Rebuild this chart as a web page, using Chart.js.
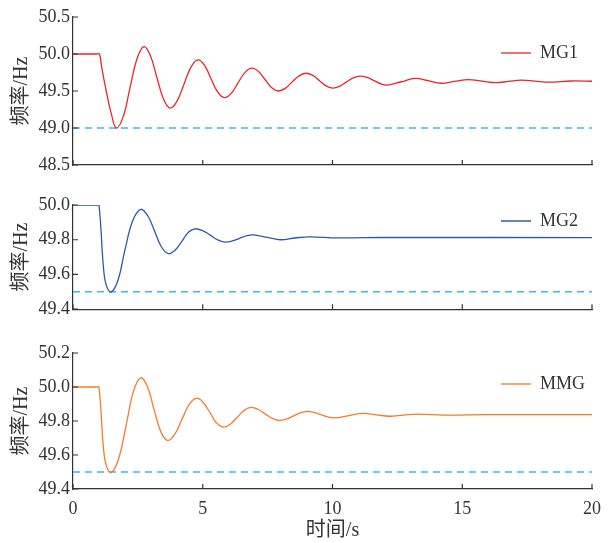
<!DOCTYPE html>
<html>
<head>
<meta charset="utf-8">
<script src="https://cdn.jsdelivr.net/npm/chart.js@4"></script>
<style>
  html, body { margin: 0; padding: 0; background: #fff; }
  #wrap { position: relative; width: 614px; height: 543px; background: #fff; }
  canvas { position: absolute; left: 0; }
</style>
</head>
<body>
<div id="wrap">
  <canvas id="c1" width="614" height="180" style="top:0px"></canvas>
  <canvas id="c2" width="614" height="143" style="top:180px"></canvas>
  <canvas id="c3" width="614" height="213" style="top:330px"></canvas>
</div>
<script>
// time axis (s)
const xTickValues = [0, 5, 10, 15, 20];

// MG1 frequency (Hz)
const timeMG1 = [0, 0.9, 1.02, 1.1, 1.28, 1.47, 1.67, 1.94, 2.2, 2.47, 2.73, 2.98, 3.23, 3.49, 3.74,
  4.01, 4.28, 4.55, 4.82, 5.07, 5.32, 5.58, 5.83, 6.1, 6.36, 6.63, 6.89, 7.15, 7.4, 7.66, 7.91,
  8.18, 8.44, 8.71, 8.97, 9.24, 9.5, 9.75, 10.0, 10.27, 10.53, 10.8, 11.06, 11.33, 11.6, 11.86, 12.12,
  12.65, 13.18, 13.68, 14.17, 14.7, 15.23, 15.76, 16.29, 16.78, 17.27, 17.8, 18.33, 19.2, 20];
const freqMG1 = [50, 50, 50, 49.83, 49.5, 49.2, 49.0, 49.16, 49.55, 49.94, 50.1, 49.98, 49.685, 49.39, 49.27,
  49.364, 49.595, 49.826, 49.92, 49.846, 49.665, 49.484, 49.41, 49.468, 49.61, 49.752, 49.81, 49.765, 49.655, 49.545, 49.5,
  49.535, 49.62, 49.705, 49.74, 49.711, 49.64, 49.569, 49.54, 49.563, 49.62, 49.677, 49.7, 49.683, 49.64, 49.597, 49.58,
  49.625, 49.67, 49.64, 49.605, 49.63, 49.655, 49.633, 49.612, 49.63, 49.648, 49.634, 49.62, 49.635, 49.632];
const yTicksMG1 = [48.5, 49.0, 49.5, 50.0, 50.5];
const limitMG1 = 49.0;

// MG2 frequency (Hz)
const timeMG2 = [0, 0.9, 1.0, 1.18, 1.3, 1.48, 1.74, 2.0, 2.3, 2.61, 2.88, 3.15, 3.41, 3.67, 3.94, 4.2,
  4.45, 4.7, 5.0, 5.3, 5.6, 5.88, 6.14, 6.4, 6.67, 6.94, 7.5, 8.0, 8.55, 9.09, 10.2, 12, 20];
const freqMG2 = [50, 50, 50, 49.63, 49.53, 49.5, 49.57, 49.74, 49.909, 49.975, 49.938, 49.848, 49.758, 49.72, 49.741, 49.792,
  49.843, 49.863, 49.852, 49.825, 49.798, 49.786, 49.793, 49.807, 49.822, 49.828, 49.813, 49.8, 49.81, 49.817, 49.811, 49.813, 49.812];
const yTicksMG2 = [49.4, 49.6, 49.8, 50.0];
const limitMG2 = 49.5;

// MMG frequency (Hz)
const timeMMG = [0, 0.9, 1.0, 1.18, 1.3, 1.48, 1.76, 2.05, 2.33, 2.61, 2.87, 3.12, 3.38, 3.64, 3.92, 4.2,
  4.48, 4.77, 5.02, 5.28, 5.53, 5.79, 6.06, 6.33, 6.6, 6.86, 7.13, 7.4, 7.68, 7.95, 8.22, 8.5,
  8.76, 9.02, 9.28, 9.55, 9.82, 10.08, 10.63, 11.18, 11.7, 12.2, 12.73, 13.26, 14.3, 16, 20];
const freqMMG = [50, 50, 50, 49.63, 49.53, 49.497, 49.578, 49.776, 49.974, 50.054, 50.001, 49.87, 49.739, 49.686, 49.722, 49.81,
  49.898, 49.934, 49.909, 49.849, 49.789, 49.764, 49.781, 49.822, 49.863, 49.88, 49.869, 49.842, 49.815, 49.803, 49.811, 49.83,
  49.848, 49.857, 49.851, 49.838, 49.824, 49.818, 49.832, 49.845, 49.836, 49.828, 49.835, 49.841, 49.835, 49.837, 49.837];
const yTicksMMG = [49.4, 49.6, 49.8, 50.0, 50.2];
const limitMMG = 49.5;

const serif = "'Liberation Serif', 'Times New Roman', serif";
const cjk = "'Liberation Serif', 'Noto Sans CJK SC', serif";
const ink = '#333';

// small inward tick marks on both axes
const innerTicks = {
  id: 'innerTicks',
  afterDraw(chart) {
    const { ctx, chartArea: a, scales: { x, y } } = chart;
    ctx.save();
    ctx.strokeStyle = ink;
    ctx.lineWidth = 1.2;
    ctx.beginPath();
    x.ticks.forEach(t => {
      const px = x.getPixelForValue(t.value);
      ctx.moveTo(px, a.bottom);
      ctx.lineTo(px, a.bottom - 5);
    });
    y.ticks.forEach(t => {
      const py = y.getPixelForValue(t.value);
      ctx.moveTo(a.left, py);
      ctx.lineTo(a.left + 5, py);
    });
    ctx.stroke();
    ctx.restore();
  }
};

// put the legend at a fixed spot inside the plot
const legendAt = {
  id: 'legendAt',
  beforeDraw(chart, args, opts) {
    const lg = chart.legend;
    if (!lg) return;
    lg.left = opts.x;
    lg.top = opts.y;
    lg.right = opts.x + lg.width;
    lg.bottom = opts.y + lg.height;
  }
};

function makeChart(id, o) {
  return new Chart(document.getElementById(id), {
    type: 'line',
    data: {
      datasets: [
        {
          label: o.label,
          data: o.time.map((t, i) => ({ x: t, y: o.freq[i] })),
          borderColor: o.color,
          borderWidth: 1.3,
          pointRadius: 0,
          tension: 0.4,
          fill: false
        },
        {
          label: 'limit',
          data: [{ x: 0, y: o.limit }, { x: 20, y: o.limit }],
          borderColor: '#3db8ea',
          borderWidth: 1.5,
          borderDash: [7, 5],
          pointRadius: 0,
          fill: false
        }
      ]
    },
    options: {
      responsive: false,
      animation: false,
      layout: { padding: { top: o.padTop, bottom: o.padBottom, left: 0, right: 22 } },
      plugins: {
        tooltip: { enabled: false },
        legend: {
          position: 'chartArea',
          align: 'start',
          labels: {
            filter: item => item.datasetIndex === 0,
            usePointStyle: true,
            pointStyle: 'line',
            pointStyleWidth: 30,
            padding: 0,
            color: ink,
            font: { family: serif, size: 18 }
          }
        },
        legendAt: { x: 501, y: o.legendTop }
      },
      scales: {
        x: {
          type: 'linear',
          min: 0,
          max: 20,
          afterBuildTicks: s => { s.ticks = xTickValues.map(v => ({ value: v })); },
          afterFit: o.showX ? s => { s.height = 54; } : undefined,
          ticks: {
            display: o.showX,
            padding: 9,
            color: ink,
            maxRotation: 0,
            font: { family: serif, size: 18 }
          },
          grid: { drawOnChartArea: false, drawTicks: false },
          border: { color: ink, width: 1.2 },
          title: {
            display: o.showX,
            text: '时间/s',
            color: ink,
            padding: { top: 0, bottom: 0 },
            font: { family: cjk, size: 20 }
          }
        },
        y: {
          min: o.yTicks[0],
          max: o.yTicks[o.yTicks.length - 1],
          afterBuildTicks: s => { s.ticks = o.yTicks.map(v => ({ value: v })); },
          afterFit: s => { s.width = 73; },
          ticks: {
            padding: 3,
            color: ink,
            font: { family: serif, size: 18 },
            callback: v => Number(v).toFixed(1)
          },
          grid: { drawOnChartArea: false, drawTicks: false },
          border: { color: ink, width: 1.2 },
          title: {
            display: true,
            text: '频率/Hz',
            color: ink,
            padding: { top: 10, bottom: 0 },
            font: { family: cjk, size: 20 }
          }
        }
      }
    },
    plugins: [innerTicks, legendAt]
  });
}

makeChart('c1', {
  label: 'MG1', time: timeMG1, freq: freqMG1, color: '#e8262b', limit: limitMG1,
  yTicks: yTicksMG1, padTop: 17, padBottom: 15, legendTop: 44, showX: false
});
makeChart('c2', {
  label: 'MG2', time: timeMG2, freq: freqMG2, color: '#2c5aa8', limit: limitMG2,
  yTicks: yTicksMG2, padTop: 25, padBottom: 13, legendTop: 32, showX: false
});
makeChart('c3', {
  label: 'MMG', time: timeMMG, freq: freqMMG, color: '#f47c2c', limit: limitMMG,
  yTicks: yTicksMMG, padTop: 23, padBottom: 0, legendTop: 45, showX: true
});
</script>
</body>
</html>
